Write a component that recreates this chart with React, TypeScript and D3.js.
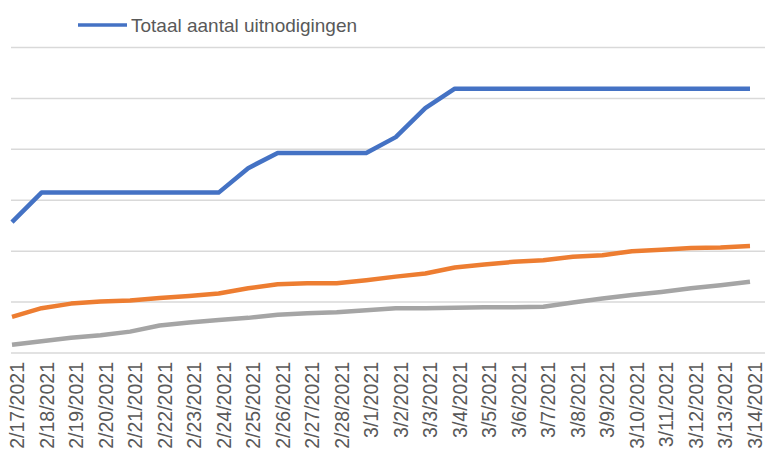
import React from "react";
import * as d3 from "d3";

const dates = [
  "2/17/2021", "2/18/2021", "2/19/2021", "2/20/2021", "2/21/2021", "2/22/2021",
  "2/23/2021", "2/24/2021", "2/25/2021", "2/26/2021", "2/27/2021", "2/28/2021",
  "3/1/2021", "3/2/2021", "3/3/2021", "3/4/2021", "3/5/2021", "3/6/2021",
  "3/7/2021", "3/8/2021", "3/9/2021", "3/10/2021", "3/11/2021", "3/12/2021",
  "3/13/2021", "3/14/2021",
];

const totaalUitnodigingen = [
  257, 315, 315, 315, 315, 315, 315, 315, 363, 393, 393, 393, 393,
  424, 481, 519, 519, 519, 519, 519, 519, 519, 519, 519, 519, 519,
];

const oranjeReeks = [
  71, 88, 97, 101, 103, 108, 112, 117, 127, 135, 137, 137, 143,
  150, 156, 168, 174, 179, 182, 189, 192, 200, 203, 206, 207, 210,
];

const grijzeReeks = [
  16, 23, 30, 35, 42, 54, 60, 65, 69, 75, 78, 80, 84,
  88, 88, 89, 90, 90, 91, 99, 107, 114, 120, 127, 133, 140,
];

const yTicks = [0, 100, 200, 300, 400, 500, 600];
const legendLabel = "Totaal aantal uitnodigingen";

const W = 777;
const H = 457;

export default function App() {
  const x = d3
    .scalePoint<string>()
    .domain(dates)
    .range([12, 750]);
  const y = d3.scaleLinear().domain([0, 600]).range([353, 47.5]);

  const line = d3
    .line<number>()
    .x((_, i) => x(dates[i]) as number)
    .y((d) => y(d));

  const series = [
    { values: grijzeReeks, color: "#A5A5A5" },
    { values: oranjeReeks, color: "#ED7D31" },
    { values: totaalUitnodigingen, color: "#4472C4" },
  ];

  const font = "'Liberation Sans', Arial, sans-serif";

  return (
    <svg
      width={W}
      height={H}
      style={{ position: "absolute", left: 0, top: 0, background: "#fff" }}
    >
      {yTicks.map((t) => (
        <line
          key={t}
          x1={11}
          x2={765}
          y1={y(t)}
          y2={y(t)}
          stroke="#D9D9D9"
          strokeWidth={1.5}
        />
      ))}
      {series.map((s, i) => (
        <path
          key={i}
          d={line(s.values) || ""}
          fill="none"
          stroke={s.color}
          strokeWidth={4.5}
          strokeLinejoin="round"
        />
      ))}
      {dates.map((d) => {
        const px = (x(d) as number) + 5;
        return (
          <text
            key={d}
            transform={`translate(${px},362) rotate(-90)`}
            textAnchor="end"
            dominantBaseline="central"
            fontFamily={font}
            fontSize={19.5}
            fill="#595959"
          >
            {d}
          </text>
        );
      })}
      <line x1={78} x2={127} y1={25} y2={25} stroke="#4472C4" strokeWidth={3.5} />
      <text
        x={131}
        y={32}
        fontFamily={font}
        fontSize={19}
        fill="#595959"
      >
        {legendLabel}
      </text>
    </svg>
  );
}
